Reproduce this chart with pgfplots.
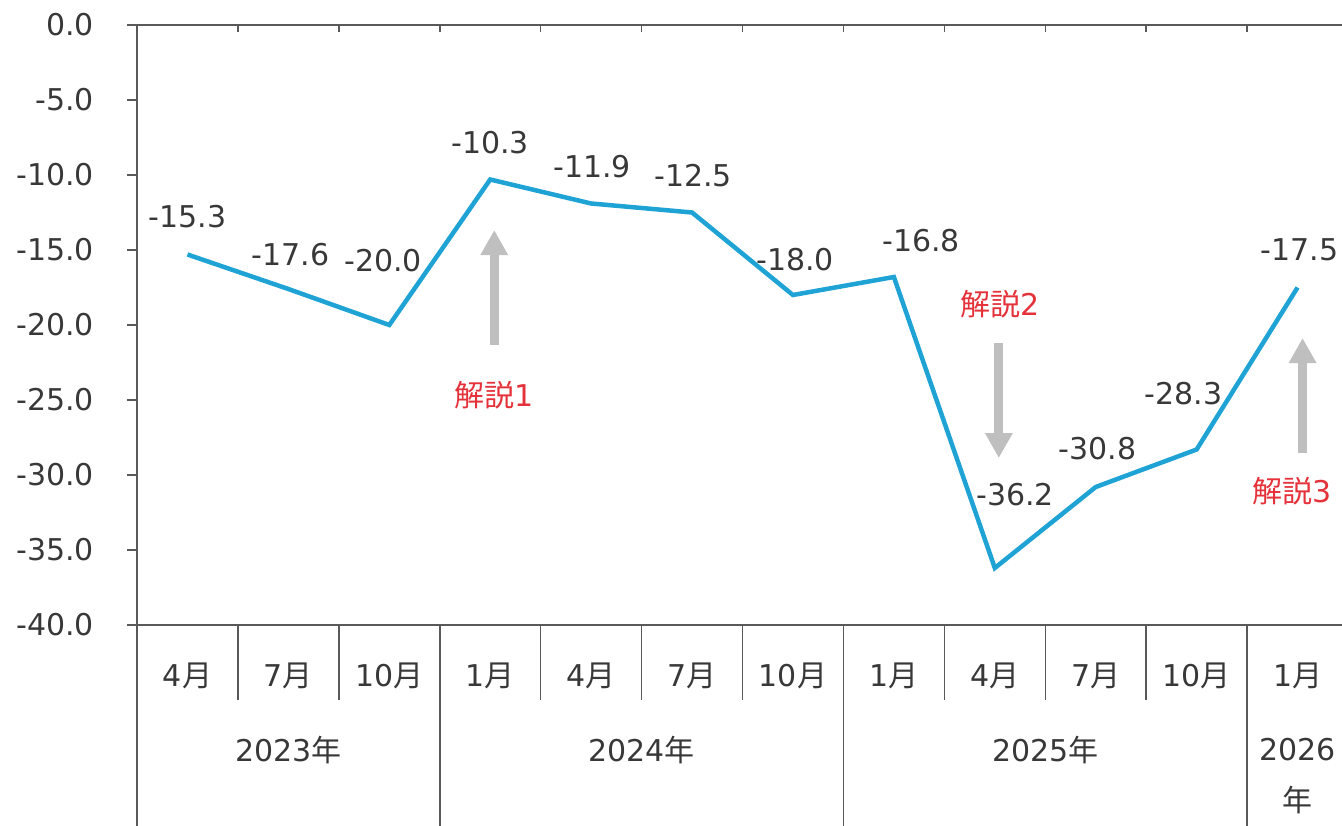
\documentclass[border=0pt]{standalone}
\usepackage{fontspec}
\setmainfont{DejaVu Sans}
\newfontfamily\jp{Noto Sans CJK JP}
\usepackage{pgfplots}
\pgfplotsset{compat=1.18}
\usetikzlibrary{arrows.meta}
\definecolor{linec}{HTML}{1FA3D5}
\definecolor{txt}{HTML}{383838}
\definecolor{axc}{HTML}{595959}
\definecolor{redc}{HTML}{E5323A}
\definecolor{arrc}{HTML}{BFBFBF}
\begin{document}
\begin{tikzpicture}[font=\fontsize{15pt}{18pt}\selectfont, text=txt]
\begin{axis}[
  at={(68.5pt,100pt)}, anchor=south west,
  scale only axis, width=605.5pt, height=300pt,
  xmin=-0.5, xmax=11.5, ymin=-40, ymax=0,
  axis x line=none, axis y line*=left,
  xtick=\empty,
  ytick={-40,-35,...,0},
  tick align=outside, major tick length=5pt,
  every tick/.style={axc, line width=0.75pt},
  axis line style={axc, line width=0.75pt, -},
  yticklabel style={text=txt, font=\fontsize{15pt}{18pt}\selectfont, xshift=-13pt,
    /pgf/number format/.cd, fixed, fixed zerofill, precision=1, assume math mode=true},
  clip=false,
]
\addplot[linec, line width=2.25pt, mark=none, line join=miter] coordinates {
  (0,-15.3) (1,-17.6) (2,-20.0) (3,-10.3) (4,-11.9) (5,-12.5)
  (6,-18.0) (7,-16.8) (8,-36.2) (9,-30.8) (10,-28.3) (11,-17.5)
};
% frame lines
\draw[axc, line width=0.75pt] (axis cs:-0.5,0) -- (axis cs:11.5,0);
\draw[axc, line width=0.75pt] (axis cs:-0.5,-40) -- (axis cs:11.5,-40);
\draw[axc, line width=0.75pt] (axis cs:-0.5,-40) -- (axis cs:-0.5,-53.5);
\pgfplotsinvokeforeach{0.5,1.5,...,10.5}{
  \draw[axc, line width=0.75pt] (axis cs:#1,0) -- (axis cs:#1,-0.47);
}
\pgfplotsinvokeforeach{0.5,1.5,3.5,4.5,5.5,7.5,8.5,9.5}{
  \draw[axc, line width=0.75pt] (axis cs:#1,-40) -- (axis cs:#1,-45);
}
\pgfplotsinvokeforeach{2.5,6.5,10.5}{
  \draw[axc, line width=0.75pt] (axis cs:#1,-40) -- (axis cs:#1,-53.5);
}
% month labels
\node at (axis cs:0,-43.4) {4{\jp 月}};
\node at (axis cs:1,-43.4) {7{\jp 月}};
\node at (axis cs:2,-43.4) {10{\jp 月}};
\node at (axis cs:3,-43.4) {1{\jp 月}};
\node at (axis cs:4,-43.4) {4{\jp 月}};
\node at (axis cs:5,-43.4) {7{\jp 月}};
\node at (axis cs:6,-43.4) {10{\jp 月}};
\node at (axis cs:7,-43.4) {1{\jp 月}};
\node at (axis cs:8,-43.4) {4{\jp 月}};
\node at (axis cs:9,-43.4) {7{\jp 月}};
\node at (axis cs:10,-43.4) {10{\jp 月}};
\node at (axis cs:11,-43.4) {1{\jp 月}};
\node at (axis cs:1,-48.33) {2023{\jp 年}};
\node at (axis cs:4.5,-48.33) {2024{\jp 年}};
\node at (axis cs:8.5,-48.33) {2025{\jp 年}};
\node at (axis cs:11,-48.33) {2026};
\node at (axis cs:11,-51.67) {\jp 年};
% data labels
\node at (axis cs:0.0,-12.8) {-15.3};
\node at (axis cs:1.02,-15.33) {-17.6};
\node at (axis cs:1.94,-15.73) {-20.0};
\node at (axis cs:3.0,-7.87) {-10.3};
\node at (axis cs:4.01,-9.47) {-11.9};
\node at (axis cs:5.01,-10.07) {-12.5};
\node at (axis cs:6.02,-15.67) {-18.0};
\node at (axis cs:7.27,-14.4) {-16.8};
\node at (axis cs:8.2,-31.33) {-36.2};
\node at (axis cs:9.02,-28.27) {-30.8};
\node at (axis cs:9.87,-24.6) {-28.3};
\node at (axis cs:11.02,-15.0) {-17.5};
% annotations
\draw[arrc, line width=4.5pt, -{Triangle[width=13pt,length=12.5pt]}] (axis cs:3.04,-21.33) -- (axis cs:3.04,-13.67);
\draw[arrc, line width=4.5pt, -{Triangle[width=13pt,length=12.5pt]}] (axis cs:8.04,-21.2) -- (axis cs:8.04,-28.87);
\draw[arrc, line width=4.5pt, -{Triangle[width=13pt,length=12.5pt]}] (axis cs:11.05,-28.53) -- (axis cs:11.05,-20.87);
\node[text=redc] at (axis cs:3.04,-24.67) {{\jp 解説}1};
\node[text=redc] at (axis cs:8.05,-18.6) {{\jp 解説}2};
\node[text=redc] at (axis cs:10.95,-31.07) {{\jp 解説}3};
\end{axis}
\pgfresetboundingbox
\useasboundingbox (0,0) rectangle (671pt,412.5pt);
\end{tikzpicture}
\end{document}
